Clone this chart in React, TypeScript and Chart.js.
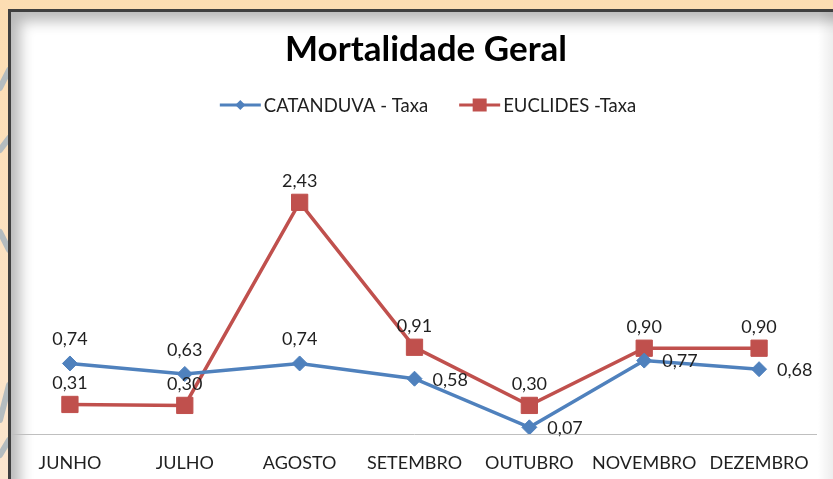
import React, { useEffect, useRef } from 'react';
import { Chart, registerables } from 'chart.js';

Chart.register(...registerables);

const chartTitle = 'Mortalidade Geral';
const categories = ['JUNHO', 'JULHO', 'AGOSTO', 'SETEMBRO', 'OUTUBRO', 'NOVEMBRO', 'DEZEMBRO'];
const seriesNames = ['CATANDUVA - Taxa', 'EUCLIDES -Taxa'];
const catanduvaTaxa = [0.74, 0.63, 0.74, 0.58, 0.07, 0.77, 0.68];
const euclidesTaxa = [0.31, 0.3, 2.43, 0.91, 0.3, 0.9, 0.9];
const catanduvaLabelPos = ['top', 'top', 'top', 'right', 'right', 'right', 'right'];
const euclidesLabelPos = ['top', 'top', 'top', 'top', 'top', 'top', 'top'];
const yMin = 0;
const yMax = 3;

const BLUE = '#4F81BD';
const RED = '#C0504D';
const FONT = 'Lato, "Open Sans", sans-serif';

const fmt = (v: number) => v.toFixed(2).replace('.', ',');

const overlayPlugin = {
  id: 'overlay',
  afterDatasetsDraw(chart: any) {
    const ctx = chart.ctx as CanvasRenderingContext2D;
    ctx.save();
    ctx.font = `18px ${FONT}`;
    ctx.fillStyle = '#1F1F1F';
    const posSets = [catanduvaLabelPos, euclidesLabelPos];
    const topOffsets = [24, 21];
    chart.data.datasets.forEach((ds: any, di: number) => {
      const meta = chart.getDatasetMeta(di);
      meta.data.forEach((pt: any, i: number) => {
        const text = fmt(ds.data[i]);
        const pos = posSets[di][i];
        if (pos === 'top') {
          ctx.textAlign = 'center';
          ctx.textBaseline = 'middle';
          ctx.fillText(text, pt.x, pt.y - topOffsets[di]);
        } else {
          ctx.textAlign = 'left';
          ctx.textBaseline = 'middle';
          ctx.fillText(text, pt.x + 18, pt.y + 1);
        }
      });
    });
    ctx.restore();
  },
  afterDraw(chart: any) {
    const ctx = chart.ctx as CanvasRenderingContext2D;
    ctx.save();
    ctx.font = `bold 35px ${FONT}`;
    ctx.fillStyle = '#000';
    ctx.textAlign = 'center';
    ctx.textBaseline = 'middle';
    ctx.fillText(chartTitle, 426, 50);
    ctx.font = `18.5px ${FONT}`;
    const names = chart.data.datasets.map((d: any) => d.label);
    const lineW = 41;
    const gap = 3;
    const itemGap = 31;
    const widths = names.map((n: string) => ctx.measureText(n).width);
    const total = widths.reduce((a: number, w: number) => a + lineW + gap + w, 0) + itemGap * (names.length - 1);
    let x = 428 - total / 2;
    const y = 105;
    const colors = [BLUE, RED];
    names.forEach((n: string, i: number) => {
      ctx.strokeStyle = colors[i];
      ctx.lineWidth = 3;
      ctx.beginPath();
      ctx.moveTo(x, y);
      ctx.lineTo(x + lineW, y);
      ctx.stroke();
      ctx.fillStyle = colors[i];
      const cx = x + lineW / 2;
      ctx.beginPath();
      if (i === 0) {
        ctx.moveTo(cx - 5, y);
        ctx.lineTo(cx, y - 5);
        ctx.lineTo(cx + 5, y);
        ctx.lineTo(cx, y + 5);
        ctx.closePath();
      } else {
        ctx.rect(cx - 7, y - 6.5, 14, 13);
      }
      ctx.fill();
      ctx.fillStyle = '#1F1F1F';
      ctx.textAlign = 'left';
      ctx.textBaseline = 'middle';
      ctx.fillText(n, x + lineW + gap, y + 1);
      x += lineW + gap + widths[i] + itemGap;
    });
    ctx.restore();
  },
};

export default function App() {
  const canvasRef = useRef<HTMLCanvasElement | null>(null);

  useEffect(() => {
    const canvas = canvasRef.current;
    if (!canvas) return;
    const chart = new Chart(canvas, {
      type: 'line',
      data: {
        labels: categories,
        datasets: [
          {
            label: seriesNames[0],
            data: catanduvaTaxa,
            borderColor: BLUE,
            backgroundColor: BLUE,
            borderWidth: 3.5,
            pointStyle: 'rectRot',
            pointRadius: 7.5,
            pointBorderWidth: 1,
            pointBackgroundColor: BLUE,
            pointBorderColor: BLUE,
            tension: 0,
          },
          {
            label: seriesNames[1],
            data: euclidesTaxa,
            borderColor: RED,
            backgroundColor: RED,
            borderWidth: 3.5,
            pointStyle: 'rect',
            pointRadius: 11.5,
            pointBorderWidth: 1,
            pointBackgroundColor: RED,
            pointBorderColor: RED,
            tension: 0,
          },
        ],
      },
      options: {
        animation: false,
        responsive: false,
        maintainAspectRatio: false,
        layout: { padding: { top: 148, left: 12.5, right: 16.5, bottom: 5 } },
        plugins: {
          legend: { display: false },
          title: { display: false },
          tooltip: { enabled: false },
        },
        scales: {
          x: {
            offset: true,
            grid: { display: false, drawTicks: false },
            border: { display: true, color: '#BFBFBF', width: 1 },
            ticks: {
              font: { family: FONT, size: 18 },
              color: '#1F1F1F',
              padding: 18,
              maxRotation: 0,
              autoSkip: false,
            },
            afterFit: (scale: any) => {
              scale.height = 40;
            },
          },
          y: {
            display: false,
            min: yMin,
            max: yMax,
          },
        },
      },
      plugins: [overlayPlugin],
    });
    return () => chart.destroy();
  }, []);

  return (
    <div
      style={{
        position: 'fixed',
        left: 0,
        top: 0,
        width: 833,
        height: 479,
        overflow: 'hidden',
        background: 'linear-gradient(to bottom, #FCDDB2, #FBE6CF)',
      }}
    >
      <svg width={9} height={479} style={{ position: 'absolute', left: 0, top: 0 }}>
        <g stroke="#B4BCBF" strokeWidth={6} fill="none" strokeLinecap="round">
          <line x1={0} y1={88} x2={9} y2={70} />
          <line x1={0} y1={150} x2={9} y2={138} />
          <line x1={0} y1={232} x2={9} y2={250} />
          <line x1={0} y1={420} x2={9} y2={385} />
          <line x1={0} y1={455} x2={9} y2={440} />
        </g>
      </svg>
      <div
        style={{
          position: 'absolute',
          left: 8,
          top: 9,
          width: 900,
          height: 600,
          background: '#fff',
          borderTop: '3px solid #3F3F3F',
          borderLeft: '3px solid #3F3F3F',
          boxShadow: 'inset 9px 9px 14px rgba(0,0,0,0.28)',
        }}
      />
      <div
        style={{
          position: 'absolute',
          left: 818,
          top: 12,
          width: 15,
          height: 470,
          background: 'linear-gradient(to right, rgba(0,0,0,0), rgba(0,0,0,0.07))',
        }}
      />
      <canvas
        ref={canvasRef}
        width={833}
        height={479}
        style={{ position: 'absolute', left: 0, top: 0, display: 'block' }}
      />
    </div>
  );
}
